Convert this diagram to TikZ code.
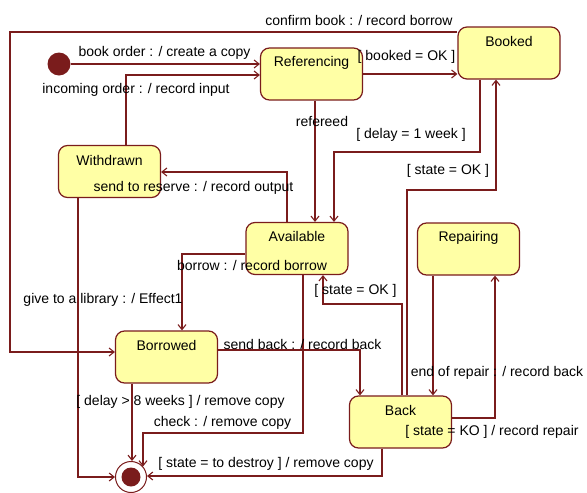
\documentclass[tikz,border=0pt]{standalone}
\usepackage{fontspec}
\setmainfont{Liberation Sans}
\usetikzlibrary{arrows.meta}
\definecolor{tline}{RGB}{122,28,28}
\definecolor{sfill}{RGB}{255,255,165}
\newcommand\lbfont{\fontsize{14}{16}\selectfont}
\tikzset{
  state/.style={draw=tline, fill=sfill, rounded corners=9pt, line width=1.2pt,
    minimum width=102pt, minimum height=52pt, inner sep=0pt},
  sname/.style={font=\lbfont, inner sep=0pt, text=black},
  tr/.style={draw=tline, line width=1.1pt, -{Straight Barb[length=5pt,width=8pt]}},
  lbl/.style={font=\lbfont, inner sep=0pt, text=black}
}
\begin{document}
\begin{tikzpicture}[x=1pt,y=-1pt]
\useasboundingbox (0,0) rectangle (587,493);

% states
\node[state] (ref)       at (311.5,74)  {};
\node[state] (booked)    at (509,53)    {};
\node[state] (withdrawn) at (109.5,171.5) {};
\node[state] (avail)     at (297,248.5) {};
\node[state] (repair)    at (468.5,249) {};
\node[state] (borrowed)  at (166.5,357) {};
\node[state] (back)      at (400.5,422) {};

\node[sname] (refT)       at ([yshift=-15pt]ref.north)       {Referencing};
\node[sname] (bookedT)    at ([yshift=-15pt]booked.north)    {Booked};
\node[sname] (withdrawnT) at ([yshift=-16pt]withdrawn.north) {Withdrawn};
\node[sname] (availT)     at ([yshift=-15pt]avail.north)     {Available};
\node[sname] (repairT)    at ([yshift=-15pt]repair.north)    {Repairing};
\node[sname] (borrowedT)  at ([yshift=-15pt]borrowed.north)  {Borrowed};
\node[sname] (backT)      at ([yshift=-15pt]back.north)      {Back};

% pseudo states
\node[circle, fill=tline, minimum size=23pt, inner sep=0pt] (init) at (59,64) {};
\node[circle, draw=tline, line width=1pt, fill=white, minimum size=31pt, inner sep=0pt] (final) at (131,477) {};
\node[circle, fill=tline, minimum size=19pt, inner sep=0pt] (finalc) at (final) {};

% bend points
\coordinate (w1) at (126,75);
\coordinate (c1) at (10,32);
\coordinate (c2) at (10,352);
\coordinate (x1) at (315,0);
\coordinate (d1) at (480,152);
\coordinate (d2) at (334,152);
\coordinate (e1) at (407,190);
\coordinate (e2) at (496,190);
\coordinate (f1) at (402,304);
\coordinate (f2) at (323,304);
\coordinate (g1) at (287,172);
\coordinate (h1) at (182,254);
\coordinate (i1) at (78,477);
\coordinate (j1) at (360,350);
\coordinate (k1) at (132,0);
\coordinate (l1) at (303,433);
\coordinate (l2) at (143,433);
\coordinate (l3) at (143,466.5);
\coordinate (m1) at (382,476);
\coordinate (n1) at (495,418);
\coordinate (o1) at (433,0);

% transitions
\draw[tr] (init.east) -- (init.east -| ref.west);
\draw[tr] (withdrawn.north -| w1) -- (w1) -- (w1 -| ref.west);
\draw[tr] (c1 -| booked.west) -- (c1) -- (c2) -- (c2 -| borrowed.west);
\draw[tr] (ref.east) -- (ref.east -| booked.west);
\draw[tr] (ref.south -| x1) -- (avail.north -| x1);
\draw[tr] (booked.south -| d1) -- (d1) -- (d2) -- (d2 |- avail.north);
\draw[tr] (back.north -| e1) -- (e1) -- (e2) -- (e2 |- booked.south);
\draw[tr] (back.north -| f1) -- (f1) -- (f2) -- (f2 |- avail.south);
\draw[tr] (avail.north -| g1) -- (g1) -- (g1 -| withdrawn.east);
\draw[tr] (h1 -| avail.west) -- (h1) -- (h1 |- borrowed.north);
\draw[tr] (withdrawn.south -| i1) -- (i1) -- (i1 -| final.west);
\draw[tr] (j1 -| borrowed.east) -- (j1) -- (j1 |- back.north);
\draw[tr] (borrowed.south -| k1) -- (k1 |- final.north);
\draw[tr] (avail.south -| l1) -- (l1) -- (l2) -- (l3);
\draw[tr] (back.south -| m1) -- (m1) -- (m1 -| final.east);
\draw[tr] (n1 -| back.east) -- (n1) -- (n1 |- repair.south);
\draw[tr] (repair.south -| o1) -- (back.north -| o1);

% transition labels
\node[lbl] (t1)  at (359,20)    {confirm book : / record borrow};
\node[lbl] (t2)  at (164.5,53)  {book order : / create a copy};
\node[lbl] (t3)  at (406.5,57)  {[ booked = OK ]};
\node[lbl] (t4)  at (136,90)    {incoming order : / record input};
\node[lbl] (t5)  at (322,121)   {refereed};
\node[lbl] (t6)  at (411,135)   {[ delay = 1 week ]};
\node[lbl] (t7)  at (448,171)   {[ state = OK ]};
\node[lbl] (t8)  at (193.5,188) {send to reserve : / record output};
\node[lbl] (t9)  at (252,265)   {borrow : / record borrow};
\node[lbl] (t10) at (103,300)   {give to a library : / Effect1};
\node[lbl] (t11) at (355.5,291) {[ state = OK ]};
\node[lbl] (t12) at (302.5,344) {send back : / record back};
\node[lbl] (t13) at (497,373)   {end of repair : / record back};
\node[lbl] (t14) at (180.5,402) {[ delay > 8 weeks ] / remove copy};
\node[lbl] (t15) at (222.5,423) {check : / remove copy};
\node[lbl] (t16) at (492,432)   {[ state = KO ] / record repair};
\node[lbl] (t17) at (266,464)   {[ state = to destroy ] / remove copy};
\end{tikzpicture}
\end{document}
